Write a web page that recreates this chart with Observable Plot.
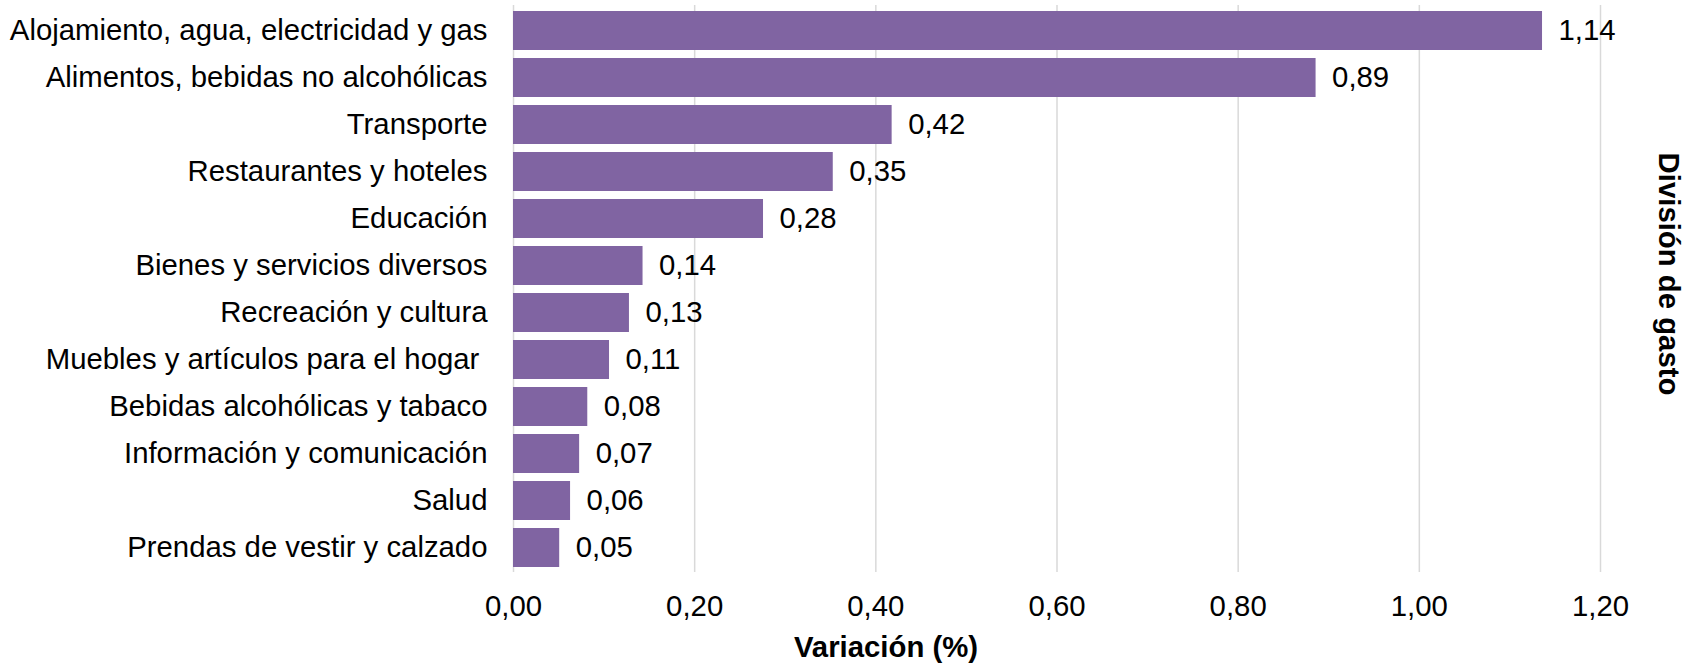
<!DOCTYPE html>
<html>
<head>
<meta charset="utf-8">
<script src="https://cdn.jsdelivr.net/npm/d3@7"></script>
<script src="https://cdn.jsdelivr.net/npm/@observablehq/plot@0.6"></script>
<style>
  html, body { margin: 0; padding: 0; background: #fff; }
  svg { display: block; }
</style>
</head>
<body>
<div id="chart"></div>
<script>
const categories = [
  "Alojamiento, agua, electricidad y gas",
  "Alimentos, bebidas no alcohólicas",
  "Transporte",
  "Restaurantes y hoteles",
  "Educación",
  "Bienes y servicios diversos",
  "Recreación y cultura",
  "Muebles y artículos para el hogar ",
  "Bebidas alcohólicas y tabaco",
  "Información y comunicación",
  "Salud",
  "Prendas de vestir y calzado"
];
const values = [1.136, 0.886, 0.418, 0.353, 0.276, 0.143, 0.128, 0.106, 0.082, 0.073, 0.063, 0.051];
const xTicks = [0, 0.2, 0.4, 0.6, 0.8, 1.0, 1.2];
const xTitle = "Variación (%)";
const yTitle = "División de gasto";

const data = categories.map((c, i) => ({cat: c, value: values[i]}));
const locale = d3.formatLocale({decimal: ",", thousands: ".", grouping: [3], currency: ["", ""]});
const fmt = locale.format(".2f");
const FS = 29.33;

const W = 1686, H = 666;
const chart = Plot.plot({
  width: W,
  height: H,
  marginLeft: 513,
  marginRight: 86,
  marginTop: 5,
  marginBottom: 94,
  style: {fontSize: FS + "px", fontFamily: "'Liberation Sans', Arial, sans-serif", color: "#000", background: "#fff"},
  x: {domain: [0, 1.2], ticks: xTicks, tickFormat: fmt},
  y: {domain: categories, paddingInner: 0.18, paddingOuter: 0.09},
  marks: [
    Plot.gridX(xTicks, {stroke: "#d9d9d9", strokeOpacity: 1, strokeWidth: 1.5}),
    Plot.barX(data, {x: "value", y: "cat", fill: "#8064A2"}),
    Plot.text(data, {x: "value", y: "cat", text: d => fmt(d.value), textAnchor: "start", dx: 16, fill: "#000"}),
    Plot.axisX({ticks: xTicks, tickFormat: fmt, tickSize: 0, tickPadding: 23, label: null}),
    Plot.axisY({tickSize: 0, tickPadding: 26, label: null})
  ]
});
document.getElementById("chart").appendChild(chart);

const svg = d3.select(chart);
svg.append("text")
  .attr("x", 886).attr("y", 657)
  .attr("text-anchor", "middle")
  .attr("font-weight", "bold")
  .attr("font-size", FS)
  .attr("fill", "#000")
  .text(xTitle);
svg.append("text")
  .attr("transform", "translate(1659,274) rotate(90)")
  .attr("text-anchor", "middle")
  .attr("font-weight", "bold")
  .attr("font-size", FS)
  .attr("fill", "#000")
  .text(yTitle);
</script>
</body>
</html>
